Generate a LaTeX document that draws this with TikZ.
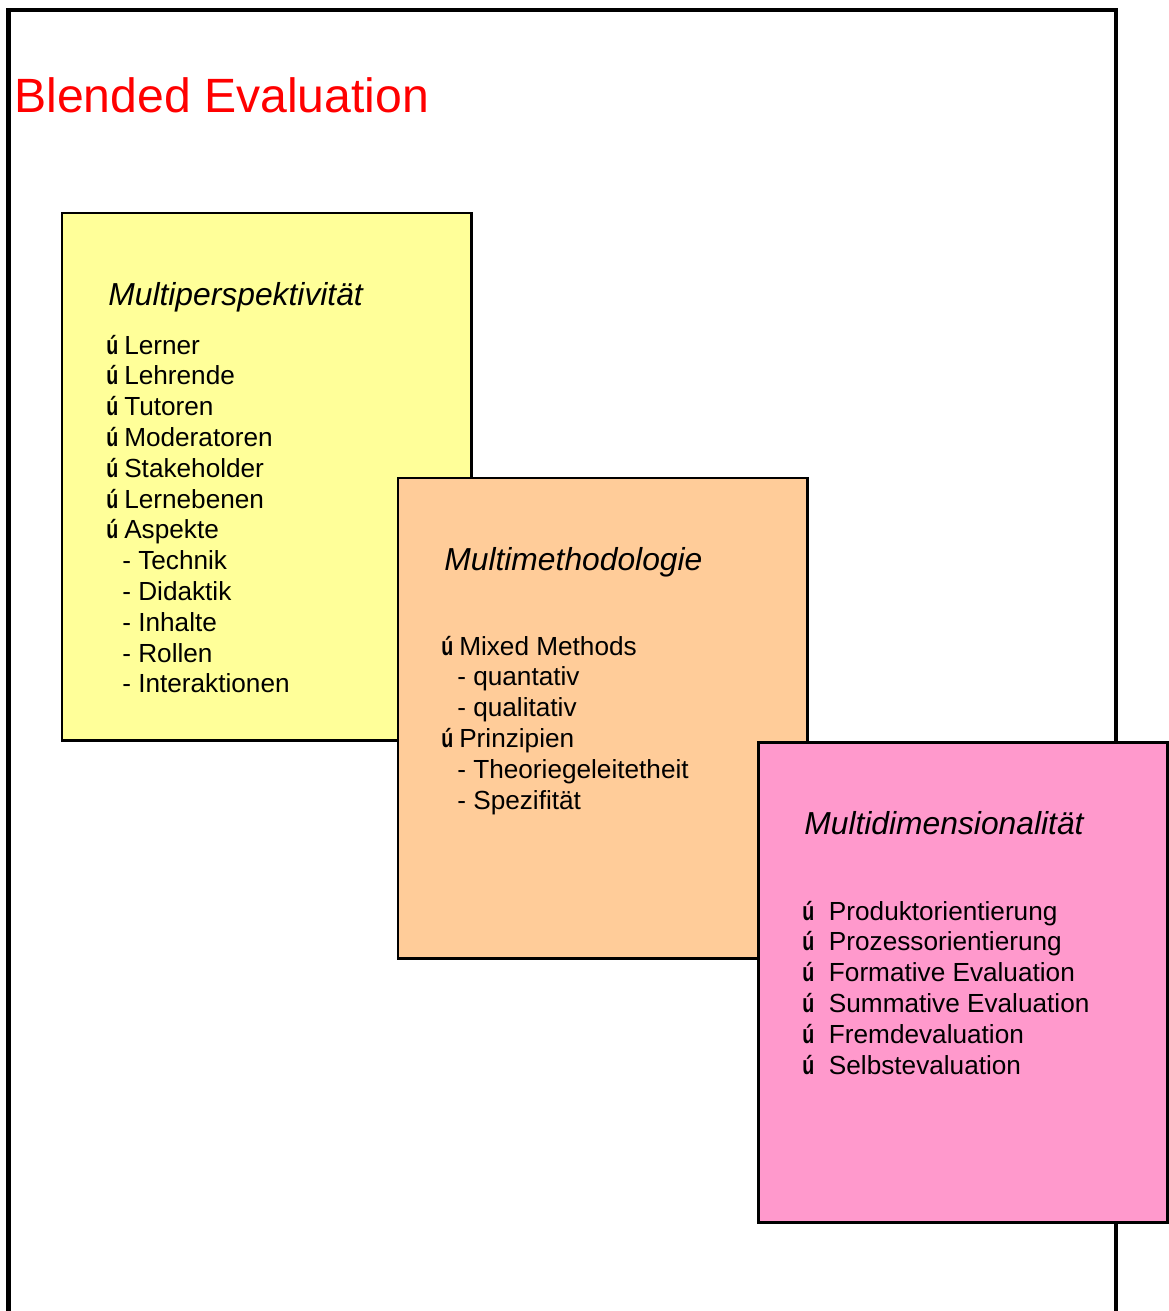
\documentclass[tikz,border=0pt]{standalone}
\usepackage{fontspec}
\setmainfont{Liberation Sans}
\usepackage{tikz}
\usetikzlibrary{positioning}
\definecolor{gelb}{HTML}{FFFF99}
\definecolor{orange}{HTML}{FFCC99}
\definecolor{rosa}{HTML}{FF99CC}
\definecolor{rot}{HTML}{FF0000}
\tikzset{
  kasten/.style={draw=black, line width=1.7pt},
  rahmen/.style={draw=black, line width=2.3pt},
  titel/.style={anchor=base west, inner sep=0pt, text=rot, font=\fontsize{27.4}{31}\selectfont},
  kopf/.style={anchor=base west, inner sep=0pt, font=\fontsize{18.1}{22}\selectfont\itshape},
  eintrag/.style={anchor=base west, inner sep=0pt, font=\fontsize{14.9}{18}\selectfont},
}
% Aufzaehlungszeichen
\newcommand{\blt}[1][10.2pt]{\makebox[#1][l]{\scalebox{0.75}[1]{\textbf{ú}}}}
\newcommand{\sub}{\hspace{9.1pt}- }
\begin{document}
\begin{tikzpicture}[x=0.02cm,y=-0.02cm]
\useasboundingbox (0,0) rectangle (1169,1311);
%Rahmen unten offen
\draw[rahmen] (8.5,1311) -- (8.5,10) -- (1116,10) -- (1116,1311);
\node[titel] (titel) at (14,113) {Blended Evaluation};

\draw[kasten, fill=gelb] (62,213) rectangle (471,740);
\node[kopf] (perspkopf) at (108,305) {Multiperspektivität};
\foreach \txt [count=\i from 0] in {\blt Lerner, \blt Lehrende, \blt Tutoren, \blt Moderatoren, \blt Stakeholder, \blt Lernebenen, \blt Aspekte, \sub Technik, \sub Didaktik, \sub Inhalte, \sub Rollen, \sub Interaktionen}
  \node[eintrag] (persp-\i) at (106,354+30.8*\i) {\txt};

\draw[kasten, fill=orange] (398,478) rectangle (807,958);
\node[kopf] (methkopf) at (444,570) {Multimethodologie};
\foreach \txt [count=\i from 0] in {\blt Mixed Methods, \sub quantativ, \sub qualitativ, \blt Prinzipien, \sub Theoriegeleitetheit, \sub Spezifität}
  \node[eintrag] (meth-\i) at (441,655+30.8*\i) {\txt};

\draw[kasten, fill=rosa] (758,742) rectangle (1167,1222);
\node[kopf] (dimkopf) at (804,834) {Multidimensionalität};
\foreach \txt [count=\i from 0] in {\blt[11pt] Produktorientierung, \blt[11pt] Prozessorientierung, \blt[11pt] Formative Evaluation, \blt[11pt] Summative Evaluation, \blt[11pt] Fremdevaluation, \blt[11pt] Selbstevaluation}
  \node[eintrag] (dim-\i) at (802,920+30.8*\i) {\txt};
\end{tikzpicture}
\end{document}
